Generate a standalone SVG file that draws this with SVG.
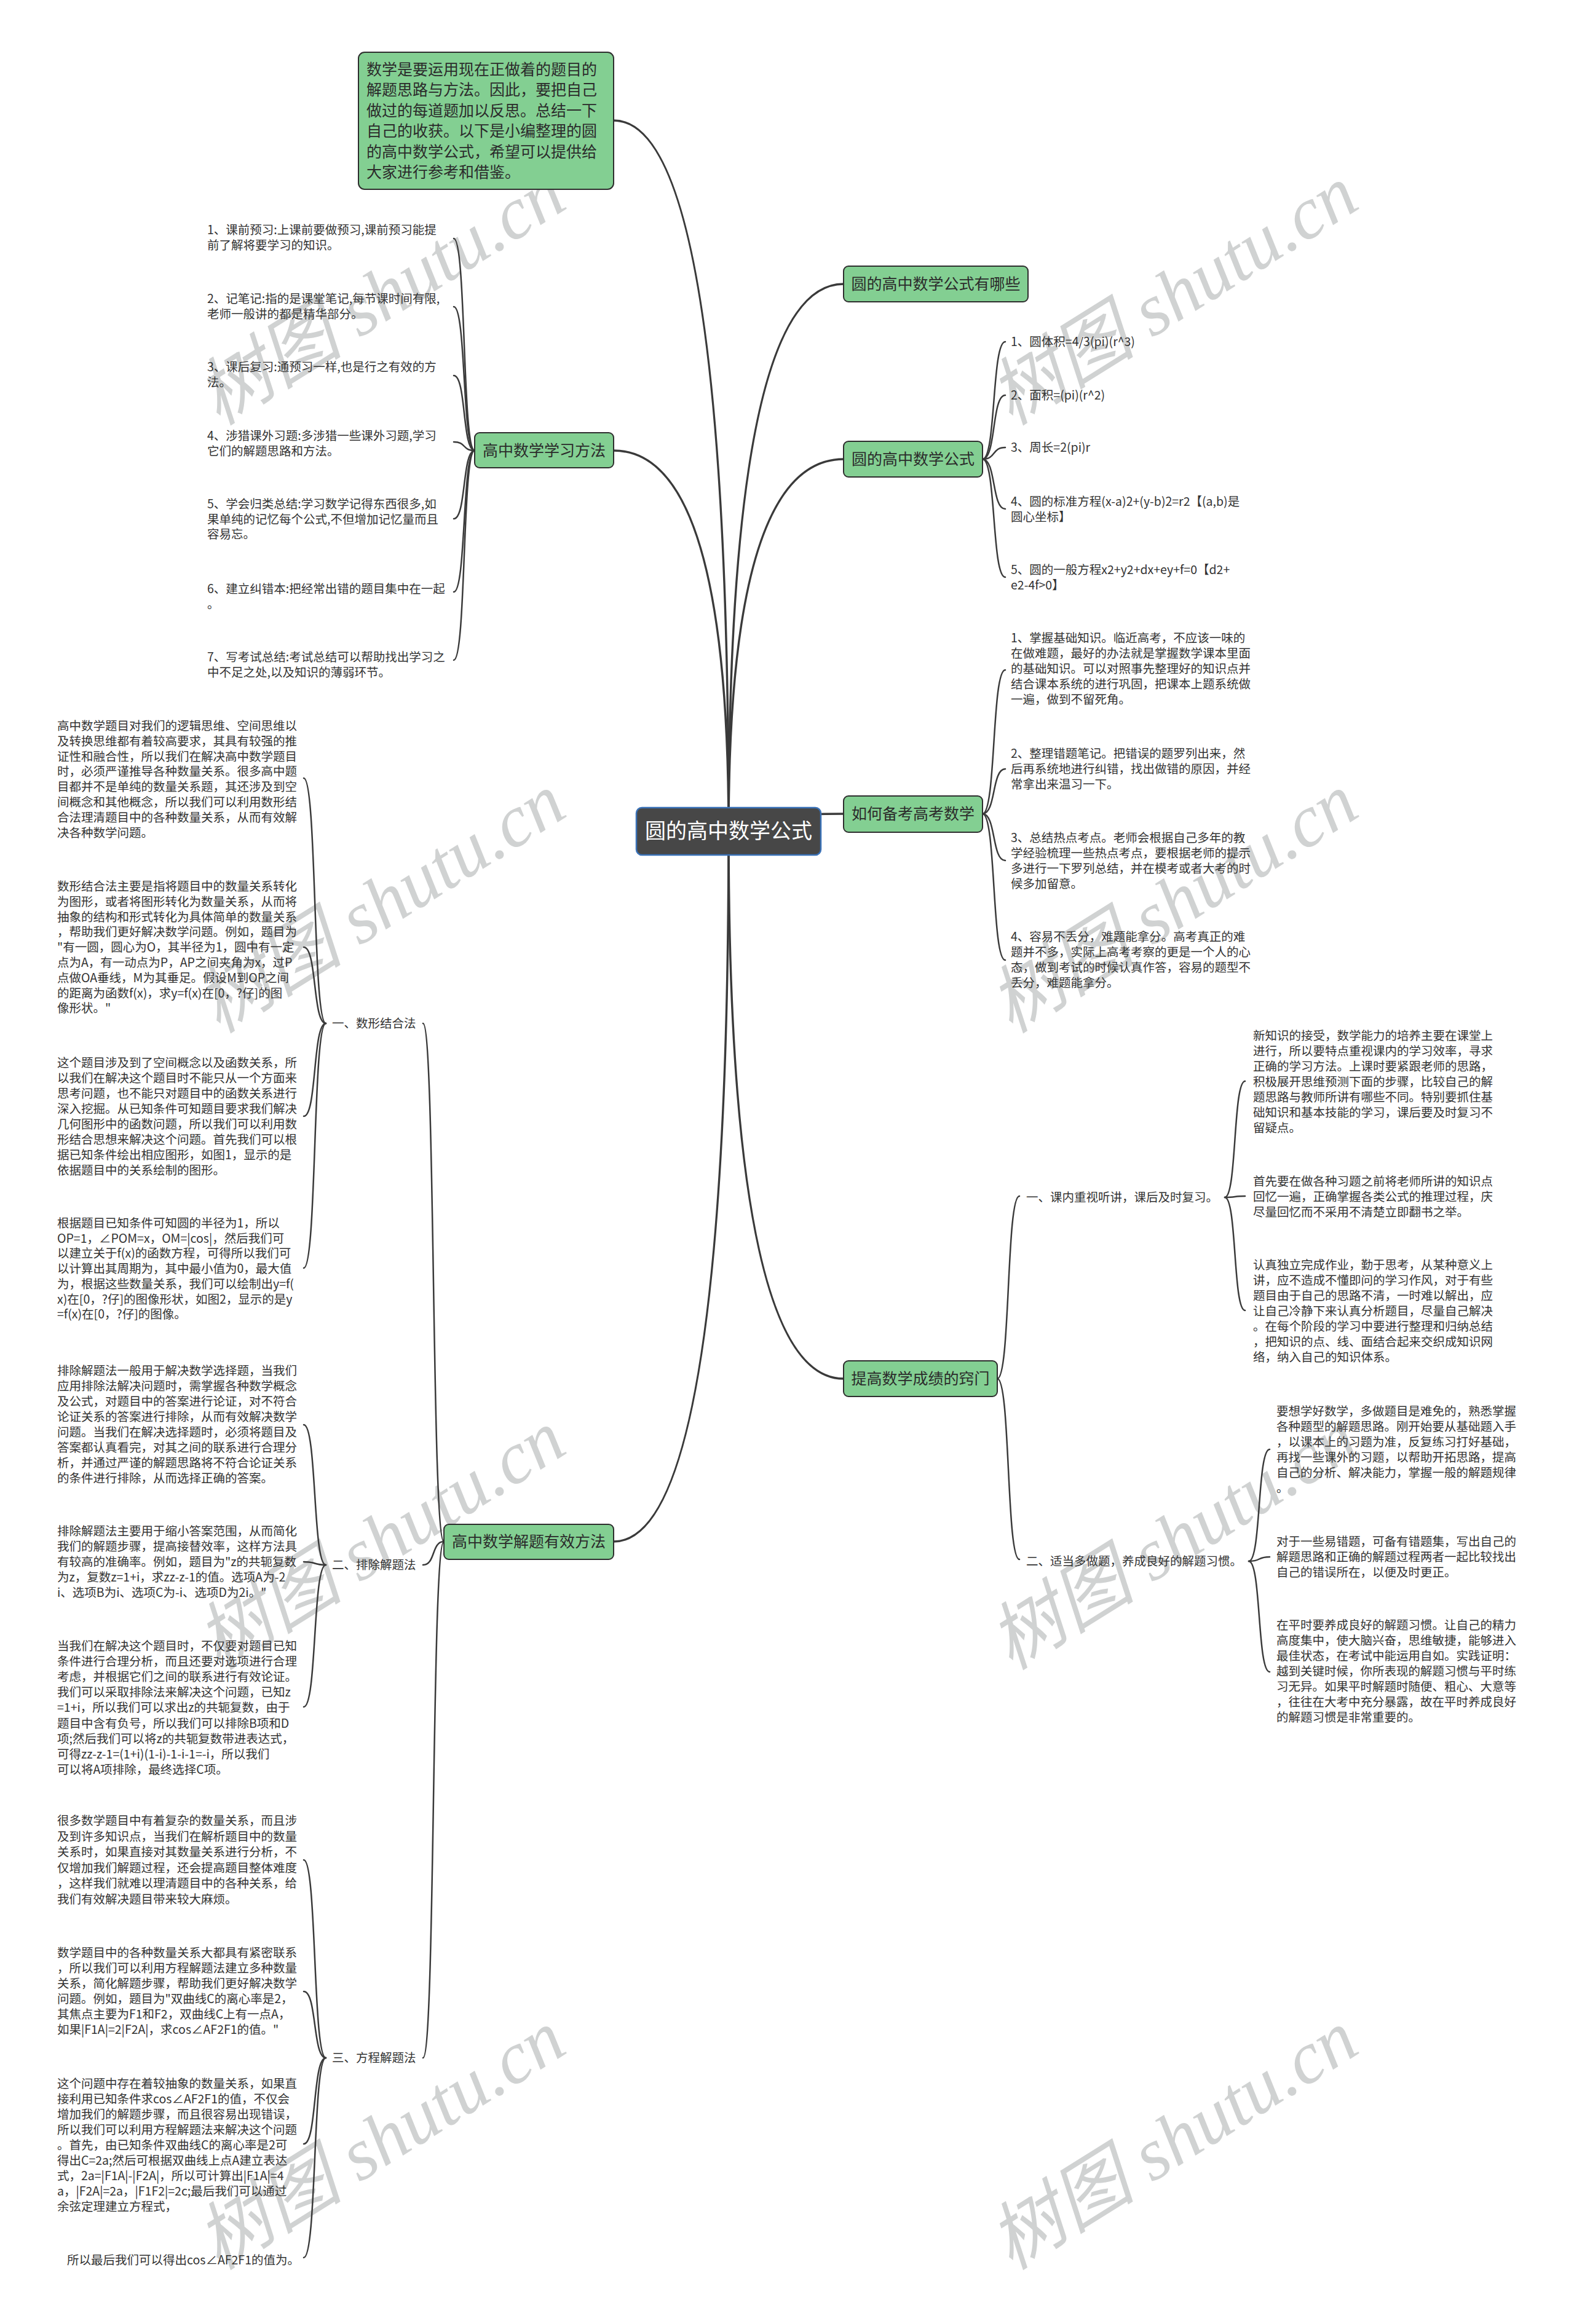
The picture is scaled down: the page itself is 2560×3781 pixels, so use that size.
<svg xmlns="http://www.w3.org/2000/svg" width="2560" height="3781" viewBox="0 0 2560 3781">
<style>
.bg{fill:#ffffff}
.wm{font-family:"Liberation Serif","Noto Sans CJK SC",serif;font-style:italic;font-size:120px;fill:#d0d2d2}
.c{fill:none;stroke:#3a3a3a;stroke-width:3.5;stroke-linecap:round}
.s{fill:none;stroke:#3a3a3a;stroke-width:2.5;stroke-linecap:round}
.g{fill:#83cf92;stroke:#2e2e2e;stroke-width:2}
.root{fill:#474747;stroke:#3a72b8;stroke-width:2.5}
.n{font-family:"Noto Sans CJK SC","Noto Sans",sans-serif;font-size:25px;fill:#2b2b2b}
.r{font-family:"Noto Sans CJK SC","Noto Sans",sans-serif;font-size:34px;fill:#ffffff}
.t{font-family:"Noto Sans CJK SC","Noto Sans",sans-serif;font-size:19.5px;fill:#333333}
</style>
<rect class="bg" x="0" y="0" width="2560" height="3781"/>
<g id="watermarks">
<text class="wm" text-anchor="middle" transform="translate(641,515) rotate(-32)">树图 shutu.cn</text>
<text class="wm" text-anchor="middle" transform="translate(1930,515) rotate(-32)">树图 shutu.cn</text>
<text class="wm" text-anchor="middle" transform="translate(641,1504) rotate(-32)">树图 shutu.cn</text>
<text class="wm" text-anchor="middle" transform="translate(1930,1504) rotate(-32)">树图 shutu.cn</text>
<text class="wm" text-anchor="middle" transform="translate(641,2540) rotate(-32)">树图 shutu.cn</text>
<text class="wm" text-anchor="middle" transform="translate(1930,2540) rotate(-32)">树图 shutu.cn</text>
<text class="wm" text-anchor="middle" transform="translate(641,3516) rotate(-32)">树图 shutu.cn</text>
<text class="wm" text-anchor="middle" transform="translate(1930,3516) rotate(-32)">树图 shutu.cn</text>
</g>
<g id="connectors">
<path class="c" d="M1185,1352 Q1185,196 998,196"/>
<path class="c" d="M1185,1352 Q1185,733 998,733"/>
<path class="c" d="M1185,1352 Q1185,462 1372,462"/>
<path class="c" d="M1185,1352 Q1185,747 1372,747"/>
<path class="c" d="M1185,1352 Q1185,1324 1372,1324"/>
<path class="c" d="M1185,1352 Q1185,2243 1372,2243"/>
<path class="c" d="M1185,1352 Q1185,2508 998,2508"/>
<path class="s" d="M772,733 C751.6,733 758.4,388 738,388"/>
<path class="s" d="M772,733 C751.6,733 758.4,499 738,499"/>
<path class="s" d="M772,733 C751.6,733 758.4,611 738,611"/>
<path class="s" d="M772,733 C751.6,733 758.4,719 738,719"/>
<path class="s" d="M772,733 C751.6,733 758.4,844 738,844"/>
<path class="s" d="M772,733 C751.6,733 758.4,963 738,963"/>
<path class="s" d="M772,733 C751.6,733 758.4,1074 738,1074"/>
<path class="s" d="M1598,747 C1620.2,747 1612.8,556 1635,556"/>
<path class="s" d="M1598,747 C1620.2,747 1612.8,643 1635,643"/>
<path class="s" d="M1598,747 C1620.2,747 1612.8,728 1635,728"/>
<path class="s" d="M1598,747 C1620.2,747 1612.8,828 1635,828"/>
<path class="s" d="M1598,747 C1620.2,747 1612.8,939 1635,939"/>
<path class="s" d="M1598,1324 C1620.2,1324 1612.8,1090 1635,1090"/>
<path class="s" d="M1598,1324 C1620.2,1324 1612.8,1251 1635,1251"/>
<path class="s" d="M1598,1324 C1620.2,1324 1612.8,1400 1635,1400"/>
<path class="s" d="M1598,1324 C1620.2,1324 1612.8,1562 1635,1562"/>
<path class="s" d="M1622,2243 C1643.6,2243 1636.4,1946 1658,1946"/>
<path class="s" d="M1622,2243 C1643.6,2243 1636.4,2537 1658,2537"/>
<path class="s" d="M1992,1948 C2011.8,1948 2005.2,1759 2025,1759"/>
<path class="s" d="M1992,1948 C2011.8,1948 2005.2,1946 2025,1946"/>
<path class="s" d="M1992,1948 C2011.8,1948 2005.2,2132 2025,2132"/>
<path class="s" d="M2031,2540 C2051.4,2540 2044.6,2358 2065,2358"/>
<path class="s" d="M2031,2540 C2051.4,2540 2044.6,2533 2065,2533"/>
<path class="s" d="M2031,2540 C2051.4,2540 2044.6,2720 2065,2720"/>
<path class="s" d="M722,2508 C701.6,2508 708.4,1665 688,1665"/>
<path class="s" d="M722,2508 C701.6,2508 708.4,2546 688,2546"/>
<path class="s" d="M722,2508 C701.6,2508 708.4,3348 688,3348"/>
<path class="s" d="M530,1665 C508.4,1665 515.6,1266 494,1266"/>
<path class="s" d="M530,1665 C508.4,1665 515.6,1541 494,1541"/>
<path class="s" d="M530,1665 C508.4,1665 515.6,1816 494,1816"/>
<path class="s" d="M530,1665 C508.4,1665 515.6,2063 494,2063"/>
<path class="s" d="M530,2546 C508.4,2546 515.6,2318 494,2318"/>
<path class="s" d="M530,2546 C508.4,2546 515.6,2541 494,2541"/>
<path class="s" d="M530,2546 C508.4,2546 515.6,2777 494,2777"/>
<path class="s" d="M530,3348 C508.4,3348 515.6,3026 494,3026"/>
<path class="s" d="M530,3348 C508.4,3348 515.6,3240 494,3240"/>
<path class="s" d="M530,3348 C508.4,3348 515.6,3488 494,3488"/>
<path class="s" d="M530,3348 C508.4,3348 515.6,3673 494,3673"/>
</g>
<g id="root">
<rect class="root" x="1035" y="1314" width="300" height="77" rx="9"/>
<text class="r" x="1185" y="1364" text-anchor="middle">圆的高中数学公式</text>
</g>
<g id="intro">
<rect class="g" x="583" y="85" width="415" height="223" rx="10"/>
<text class="n" x="596" y="122"><tspan x="596">数学是要运用现在正做着的题目的</tspan><tspan x="596" dy="33.4">解题思路与方法。因此，要把自己</tspan><tspan x="596" dy="33.4">做过的每道题加以反思。总结一下</tspan><tspan x="596" dy="33.4">自己的收获。以下是小编整理的圆</tspan><tspan x="596" dy="33.4">的高中数学公式，希望可以提供给</tspan><tspan x="596" dy="33.4">大家进行参考和借鉴。</tspan></text>
</g>
<g id="study-methods">
<rect class="g" x="772" y="704" width="226" height="57" rx="8"/>
<text class="n" x="885" y="742" text-anchor="middle">高中数学学习方法</text>
</g>
<g id="study-items">
<text class="t" x="337" y="381"><tspan x="337">1、课前预习:上课前要做预习,课前预习能提</tspan><tspan x="337" dy="24.5">前了解将要学习的知识。</tspan></text>
<text class="t" x="337" y="493"><tspan x="337">2、记笔记:指的是课堂笔记,每节课时间有限,</tspan><tspan x="337" dy="24.5">老师一般讲的都是精华部分。</tspan></text>
<text class="t" x="337" y="604"><tspan x="337">3、课后复习:通预习一样,也是行之有效的方</tspan><tspan x="337" dy="24.5">法。</tspan></text>
<text class="t" x="337" y="716"><tspan x="337">4、涉猎课外习题:多涉猎一些课外习题,学习</tspan><tspan x="337" dy="24.5">它们的解题思路和方法。</tspan></text>
<text class="t" x="337" y="827"><tspan x="337">5、学会归类总结:学习数学记得东西很多,如</tspan><tspan x="337" dy="24.5">果单纯的记忆每个公式,不但增加记忆量而且</tspan><tspan x="337" dy="24.5">容易忘。</tspan></text>
<text class="t" x="337" y="965"><tspan x="337">6、建立纠错本:把经常出错的题目集中在一起</tspan><tspan x="337" dy="24.5">。</tspan></text>
<text class="t" x="337" y="1076"><tspan x="337">7、写考试总结:考试总结可以帮助找出学习之</tspan><tspan x="337" dy="24.5">中不足之处,以及知识的薄弱环节。</tspan></text>
</g>
<g id="which-formulas">
<rect class="g" x="1372" y="433" width="300" height="58" rx="8"/>
<text class="n" x="1522" y="471" text-anchor="middle">圆的高中数学公式有哪些</text>
</g>
<g id="formulas">
<rect class="g" x="1372" y="718" width="226" height="58" rx="8"/>
<text class="n" x="1485" y="756" text-anchor="middle">圆的高中数学公式</text>
</g>
<g id="formula-items">
<text class="t" x="1644" y="563">1、圆体积=4/3(pi)(r^3)</text>
<text class="t" x="1644" y="650">2、面积=(pi)(r^2)</text>
<text class="t" x="1644" y="735">3、周长=2(pi)r</text>
<text class="t" x="1644" y="823"><tspan x="1644">4、圆的标准方程(x-a)2+(y-b)2=r2【(a,b)是</tspan><tspan x="1644" dy="24.5">圆心坐标】</tspan></text>
<text class="t" x="1644" y="934"><tspan x="1644">5、圆的一般方程x2+y2+dx+ey+f=0【d2+</tspan><tspan x="1644" dy="24.5">e2-4f&gt;0】</tspan></text>
</g>
<g id="exam-prep">
<rect class="g" x="1372" y="1295" width="226" height="59" rx="8"/>
<text class="n" x="1485" y="1333" text-anchor="middle">如何备考高考数学</text>
</g>
<g id="exam-items">
<text class="t" x="1644" y="1045"><tspan x="1644">1、掌握基础知识。临近高考，不应该一味的</tspan><tspan x="1644" dy="25">在做难题，最好的办法就是掌握数学课本里面</tspan><tspan x="1644" dy="25">的基础知识。可以对照事先整理好的知识点并</tspan><tspan x="1644" dy="25">结合课本系统的进行巩固，把课本上题系统做</tspan><tspan x="1644" dy="25">一遍，做到不留死角。</tspan></text>
<text class="t" x="1644" y="1233"><tspan x="1644">2、整理错题笔记。把错误的题罗列出来，然</tspan><tspan x="1644" dy="25">后再系统地进行纠错，找出做错的原因，并经</tspan><tspan x="1644" dy="25">常拿出来温习一下。</tspan></text>
<text class="t" x="1644" y="1370"><tspan x="1644">3、总结热点考点。老师会根据自己多年的教</tspan><tspan x="1644" dy="25">学经验梳理一些热点考点，要根据老师的提示</tspan><tspan x="1644" dy="25">多进行一下罗列总结，并在模考或者大考的时</tspan><tspan x="1644" dy="25">候多加留意。</tspan></text>
<text class="t" x="1644" y="1531"><tspan x="1644">4、容易不丢分，难题能拿分。高考真正的难</tspan><tspan x="1644" dy="25">题并不多，实际上高考考察的更是一个人的心</tspan><tspan x="1644" dy="25">态，做到考试的时候认真作答，容易的题型不</tspan><tspan x="1644" dy="25">丢分，难题能拿分。</tspan></text>
</g>
<g id="improve">
<rect class="g" x="1372" y="2214" width="250" height="58" rx="8"/>
<text class="n" x="1497" y="2252" text-anchor="middle">提高数学成绩的窍门</text>
</g>
<g id="improve-1">
<text class="t" x="1669" y="1955">一、课内重视听讲，课后及时复习。</text>
<text class="t" x="2038" y="1692"><tspan x="2038">新知识的接受，数学能力的培养主要在课堂上</tspan><tspan x="2038" dy="25">进行，所以要特点重视课内的学习效率，寻求</tspan><tspan x="2038" dy="25">正确的学习方法。上课时要紧跟老师的思路，</tspan><tspan x="2038" dy="25">积极展开思维预测下面的步骤，比较自己的解</tspan><tspan x="2038" dy="25">题思路与教师所讲有哪些不同。特别要抓住基</tspan><tspan x="2038" dy="25">础知识和基本技能的学习，课后要及时复习不</tspan><tspan x="2038" dy="25">留疑点。</tspan></text>
<text class="t" x="2038" y="1929"><tspan x="2038">首先要在做各种习题之前将老师所讲的知识点</tspan><tspan x="2038" dy="25">回忆一遍，正确掌握各类公式的推理过程，庆</tspan><tspan x="2038" dy="25">尽量回忆而不采用不清楚立即翻书之举。</tspan></text>
<text class="t" x="2038" y="2065"><tspan x="2038">认真独立完成作业，勤于思考，从某种意义上</tspan><tspan x="2038" dy="25">讲，应不造成不懂即问的学习作风，对于有些</tspan><tspan x="2038" dy="25">题目由于自己的思路不清，一时难以解出，应</tspan><tspan x="2038" dy="25">让自己冷静下来认真分析题目，尽量自己解决</tspan><tspan x="2038" dy="25">。在每个阶段的学习中要进行整理和归纳总结</tspan><tspan x="2038" dy="25">，把知识的点、线、面结合起来交织成知识网</tspan><tspan x="2038" dy="25">络，纳入自己的知识体系。</tspan></text>
</g>
<g id="improve-2">
<text class="t" x="1669" y="2547">二、适当多做题，养成良好的解题习惯。</text>
<text class="t" x="2076" y="2303"><tspan x="2076">要想学好数学，多做题目是难免的，熟悉掌握</tspan><tspan x="2076" dy="25">各种题型的解题思路。刚开始要从基础题入手</tspan><tspan x="2076" dy="25">，以课本上的习题为准，反复练习打好基础，</tspan><tspan x="2076" dy="25">再找一些课外的习题，以帮助开拓思路，提高</tspan><tspan x="2076" dy="25">自己的分析、解决能力，掌握一般的解题规律</tspan><tspan x="2076" dy="25">。</tspan></text>
<text class="t" x="2076" y="2515"><tspan x="2076">对于一些易错题，可备有错题集，写出自己的</tspan><tspan x="2076" dy="25">解题思路和正确的解题过程两者一起比较找出</tspan><tspan x="2076" dy="25">自己的错误所在，以便及时更正。</tspan></text>
<text class="t" x="2076" y="2651"><tspan x="2076">在平时要养成良好的解题习惯。让自己的精力</tspan><tspan x="2076" dy="25">高度集中，使大脑兴奋，思维敏捷，能够进入</tspan><tspan x="2076" dy="25">最佳状态，在考试中能运用自如。实践证明：</tspan><tspan x="2076" dy="25">越到关键时候，你所表现的解题习惯与平时练</tspan><tspan x="2076" dy="25">习无异。如果平时解题时随便、粗心、大意等</tspan><tspan x="2076" dy="25">，往往在大考中充分暴露，故在平时养成良好</tspan><tspan x="2076" dy="25">的解题习惯是非常重要的。</tspan></text>
</g>
<g id="solving">
<rect class="g" x="722" y="2480" width="276" height="57" rx="8"/>
<text class="n" x="860" y="2517" text-anchor="middle">高中数学解题有效方法</text>
</g>
<g id="solving-1">
<text class="t" x="540" y="1672">一、数形结合法</text>
<text class="t" x="93" y="1188"><tspan x="93">高中数学题目对我们的逻辑思维、空间思维以</tspan><tspan x="93" dy="24.8">及转换思维都有着较高要求，其具有较强的推</tspan><tspan x="93" dy="24.8">证性和融合性，所以我们在解决高中数学题目</tspan><tspan x="93" dy="24.8">时，必须严谨推导各种数量关系。很多高中题</tspan><tspan x="93" dy="24.8">目都并不是单纯的数量关系题，其还涉及到空</tspan><tspan x="93" dy="24.8">间概念和其他概念，所以我们可以利用数形结</tspan><tspan x="93" dy="24.8">合法理清题目中的各种数量关系，从而有效解</tspan><tspan x="93" dy="24.8">决各种数学问题。</tspan></text>
<text class="t" x="93" y="1449"><tspan x="93">数形结合法主要是指将题目中的数量关系转化</tspan><tspan x="93" dy="24.8">为图形，或者将图形转化为数量关系，从而将</tspan><tspan x="93" dy="24.8">抽象的结构和形式转化为具体简单的数量关系</tspan><tspan x="93" dy="24.8">，帮助我们更好解决数学问题。例如，题目为</tspan><tspan x="93" dy="24.8">"有一圆，圆心为O，其半径为1，圆中有一定</tspan><tspan x="93" dy="24.8">点为A，有一动点为P，AP之间夹角为x，过P</tspan><tspan x="93" dy="24.8">点做OA垂线，M为其垂足。假设M到OP之间</tspan><tspan x="93" dy="24.8">的距离为函数f(x)，求y=f(x)在[0，?仔]的图</tspan><tspan x="93" dy="24.8">像形状。"</tspan></text>
<text class="t" x="93" y="1736"><tspan x="93">这个题目涉及到了空间概念以及函数关系，所</tspan><tspan x="93" dy="25">以我们在解决这个题目时不能只从一个方面来</tspan><tspan x="93" dy="25">思考问题，也不能只对题目中的函数关系进行</tspan><tspan x="93" dy="25">深入挖掘。从已知条件可知题目要求我们解决</tspan><tspan x="93" dy="25">几何图形中的函数问题，所以我们可以利用数</tspan><tspan x="93" dy="25">形结合思想来解决这个问题。首先我们可以根</tspan><tspan x="93" dy="25">据已知条件绘出相应图形，如图1，显示的是</tspan><tspan x="93" dy="25">依据题目中的关系绘制的图形。</tspan></text>
<text class="t" x="93" y="1997"><tspan x="93">根据题目已知条件可知圆的半径为1，所以</tspan><tspan x="93" dy="24.7">OP=1，∠POM=x，OM=|cos|，然后我们可</tspan><tspan x="93" dy="24.7">以建立关于f(x)的函数方程，可得所以我们可</tspan><tspan x="93" dy="24.7">以计算出其周期为，其中最小值为0，最大值</tspan><tspan x="93" dy="24.7">为，根据这些数量关系，我们可以绘制出y=f(</tspan><tspan x="93" dy="24.7">x)在[0，?仔]的图像形状，如图2，显示的是y</tspan><tspan x="93" dy="24.7">=f(x)在[0，?仔]的图像。</tspan></text>
</g>
<g id="solving-2">
<text class="t" x="540" y="2553">二、排除解题法</text>
<text class="t" x="93" y="2237"><tspan x="93">排除解题法一般用于解决数学选择题，当我们</tspan><tspan x="93" dy="25">应用排除法解决问题时，需掌握各种数学概念</tspan><tspan x="93" dy="25">及公式，对题目中的答案进行论证，对不符合</tspan><tspan x="93" dy="25">论证关系的答案进行排除，从而有效解决数学</tspan><tspan x="93" dy="25">问题。当我们在解决选择题时，必须将题目及</tspan><tspan x="93" dy="25">答案都认真看完，对其之间的联系进行合理分</tspan><tspan x="93" dy="25">析，并通过严谨的解题思路将不符合论证关系</tspan><tspan x="93" dy="25">的条件进行排除，从而选择正确的答案。</tspan></text>
<text class="t" x="93" y="2498"><tspan x="93">排除解题法主要用于缩小答案范围，从而简化</tspan><tspan x="93" dy="25">我们的解题步骤，提高接替效率，这样方法具</tspan><tspan x="93" dy="25">有较高的准确率。例如，题目为"z的共轭复数</tspan><tspan x="93" dy="25">为z，复数z=1+i，求zz-z-1的值。选项A为-2</tspan><tspan x="93" dy="25">i、选项B为i、选项C为-i、选项D为2i。"</tspan></text>
<text class="t" x="93" y="2685"><tspan x="93">当我们在解决这个题目时，不仅要对题目已知</tspan><tspan x="93" dy="25.1">条件进行合理分析，而且还要对选项进行合理</tspan><tspan x="93" dy="25.1">考虑，并根据它们之间的联系进行有效论证。</tspan><tspan x="93" dy="25.1">我们可以采取排除法来解决这个问题，已知z</tspan><tspan x="93" dy="25.1">=1+i，所以我们可以求出z的共轭复数，由于</tspan><tspan x="93" dy="25.1">题目中含有负号，所以我们可以排除B项和D</tspan><tspan x="93" dy="25.1">项;然后我们可以将z的共轭复数带进表达式，</tspan><tspan x="93" dy="25.1">可得zz-z-1=(1+i)(1-i)-1-i-1=-i，所以我们</tspan><tspan x="93" dy="25.1">可以将A项排除，最终选择C项。</tspan></text>
</g>
<g id="solving-3">
<text class="t" x="540" y="3355">三、方程解题法</text>
<text class="t" x="93" y="2969"><tspan x="93">很多数学题目中有着复杂的数量关系，而且涉</tspan><tspan x="93" dy="25.5">及到许多知识点，当我们在解析题目中的数量</tspan><tspan x="93" dy="25.5">关系时，如果直接对其数量关系进行分析，不</tspan><tspan x="93" dy="25.5">仅增加我们解题过程，还会提高题目整体难度</tspan><tspan x="93" dy="25.5">，这样我们就难以理清题目中的各种关系，给</tspan><tspan x="93" dy="25.5">我们有效解决题目带来较大麻烦。</tspan></text>
<text class="t" x="93" y="3184"><tspan x="93">数学题目中的各种数量关系大都具有紧密联系</tspan><tspan x="93" dy="25">，所以我们可以利用方程解题法建立多种数量</tspan><tspan x="93" dy="25">关系，简化解题步骤，帮助我们更好解决数学</tspan><tspan x="93" dy="25">问题。例如，题目为"双曲线C的离心率是2，</tspan><tspan x="93" dy="25">其焦点主要为F1和F2，双曲线C上有一点A，</tspan><tspan x="93" dy="25">如果|F1A|=2|F2A|，求cos∠AF2F1的值。"</tspan></text>
<text class="t" x="93" y="3397"><tspan x="93">这个问题中存在着较抽象的数量关系，如果直</tspan><tspan x="93" dy="25">接利用已知条件求cos∠AF2F1的值，不仅会</tspan><tspan x="93" dy="25">增加我们的解题步骤，而且很容易出现错误，</tspan><tspan x="93" dy="25">所以我们可以利用方程解题法来解决这个问题</tspan><tspan x="93" dy="25">。首先，由已知条件双曲线C的离心率是2可</tspan><tspan x="93" dy="25">得出C=2a;然后可根据双曲线上点A建立表达</tspan><tspan x="93" dy="25">式，2a=|F1A|-|F2A|，所以可计算出|F1A|=4</tspan><tspan x="93" dy="25">a，|F2A|=2a，|F1F2|=2c;最后我们可以通过</tspan><tspan x="93" dy="25">余弦定理建立方程式，</tspan></text>
<text class="t" x="109" y="3684">所以最后我们可以得出cos∠AF2F1的值为。</text>
</g>
</svg>
